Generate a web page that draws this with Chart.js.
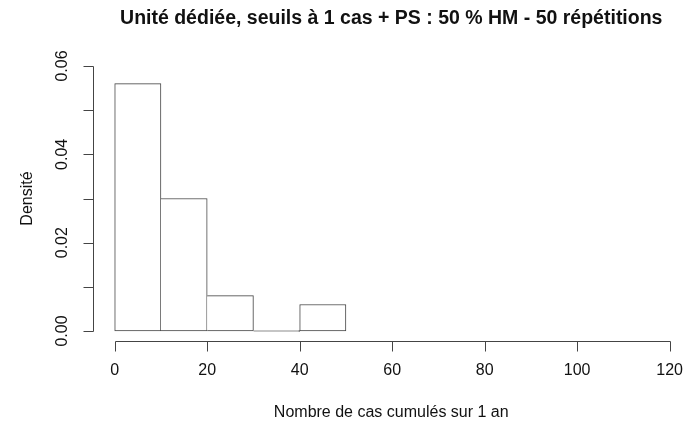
<!DOCTYPE html>
<html>
<head>
<meta charset="utf-8">
<script src="https://cdn.jsdelivr.net/npm/chart.js@4/dist/chart.umd.min.js"></script>
<style>
  html, body { margin: 0; padding: 0; background: #fff; }
  #wrap { width: 690px; height: 425px; }
</style>
</head>
<body>
<div id="wrap"><canvas id="hist"></canvas></div>
<script>
"use strict";

// histogram bins and densities
const binStarts = [0, 10, 20, 30, 40];
const binEnds = [10, 20, 30, 40, 50];
const densities = [0.056, 0.030, 0.008, 0, 0.006];

// axis ticks
const xTicks = [0, 20, 40, 60, 80, 100, 120];
const yTicks = [0, 0.01, 0.02, 0.03, 0.04, 0.05, 0.06];
const yTickLabels = ["0.00", "", "0.02", "", "0.04", "", "0.06"];

const titleText = "Unité dédiée, seuils à 1 cas + PS : 50 % HM - 50 répétitions";
const xTitle = "Nombre de cas cumulés sur 1 an";
const yTitle = "Densité";

const FONT = "'Liberation Sans', Arial, Helvetica, sans-serif";
const AXIS_COLOR = "#444";
const TEXT_COLOR = "#111";

// R style detached axes, drawn from the chart's scales
const rAxes = {
  id: "rAxes",
  afterDraw(chart) {
    const ctx = chart.ctx;
    const xs = chart.scales.x;
    const ys = chart.scales.y;
    const area = chart.chartArea;
    const tick = 10;
    ctx.save();
    ctx.strokeStyle = AXIS_COLOR;
    ctx.lineWidth = 1;
    ctx.fillStyle = TEXT_COLOR;
    ctx.font = "16px " + FONT;

    // x axis
    const xy = Math.round(area.bottom) - 0.5;
    const x0 = Math.round(xs.getPixelForValue(xTicks[0])) + 0.5;
    const x1 = Math.round(xs.getPixelForValue(xTicks[xTicks.length - 1])) + 0.5;
    ctx.beginPath();
    ctx.moveTo(x0, xy);
    ctx.lineTo(x1, xy);
    for (const v of xTicks) {
      const px = Math.round(xs.getPixelForValue(v)) + 0.5;
      ctx.moveTo(px, xy);
      ctx.lineTo(px, xy + tick);
    }
    ctx.stroke();
    ctx.textAlign = "center";
    ctx.textBaseline = "alphabetic";
    for (const v of xTicks) {
      ctx.fillText(String(v), xs.getPixelForValue(v), 375);
    }
    ctx.fillText(xTitle, (area.left + area.right) / 2, 417);

    // y axis
    const yx = Math.round(area.left) + 0.5;
    const y0 = Math.round(ys.getPixelForValue(yTicks[0])) + 0.5;
    const y1 = Math.round(ys.getPixelForValue(yTicks[yTicks.length - 1])) + 0.5;
    ctx.beginPath();
    ctx.moveTo(yx, y0);
    ctx.lineTo(yx, y1);
    for (const v of yTicks) {
      const py = Math.round(ys.getPixelForValue(v)) + 0.5;
      ctx.moveTo(yx, py);
      ctx.lineTo(yx - tick, py);
    }
    ctx.stroke();
    ctx.textBaseline = "middle";
    yTicks.forEach(function (v, i) {
      if (!yTickLabels[i]) return;
      ctx.save();
      ctx.translate(63, ys.getPixelForValue(v));
      ctx.rotate(-Math.PI / 2);
      ctx.fillText(yTickLabels[i], 0, 0);
      ctx.restore();
    });
    ctx.save();
    ctx.translate(28, (area.top + area.bottom) / 2);
    ctx.rotate(-Math.PI / 2);
    ctx.fillText(yTitle, 0, 0);
    ctx.restore();

    ctx.restore();
  }
};

const points = binStarts.map(function (s, i) {
  return { x: (s + binEnds[i]) / 2, y: densities[i] };
});

new Chart(document.getElementById("hist"), {
  type: "bar",
  data: {
    datasets: [{
      data: points,
      backgroundColor: "#fff",
      borderColor: AXIS_COLOR,
      borderWidth: 1,
      minBarLength: 1,
      borderSkipped: function (c) {
        const i = c.dataIndex;
        return (i > 0 && densities[i - 1] >= densities[i]) ? "left" : false;
      },
      barPercentage: 1,
      categoryPercentage: 1
    }]
  },
  options: {
    responsive: true,
    maintainAspectRatio: false,
    animation: false,
    events: [],
    layout: { padding: { left: 92.5, right: 0, top: 0, bottom: 83.4 } },
    plugins: {
      legend: { display: false },
      tooltip: { enabled: false },
      title: {
        display: true,
        fullSize: false,
        text: titleText,
        color: TEXT_COLOR,
        font: { family: FONT, size: 19.5, weight: "bold", lineHeight: 1.2 },
        padding: { top: 7, bottom: 25 }
      }
    },
    scales: {
      x: {
        type: "linear",
        display: false,
        offset: false,
        min: -4.8,
        max: 124.4
      },
      y: {
        display: false,
        min: -0.0024,
        max: 0.0624
      }
    }
  },
  plugins: [rAxes]
});
</script>
</body>
</html>
